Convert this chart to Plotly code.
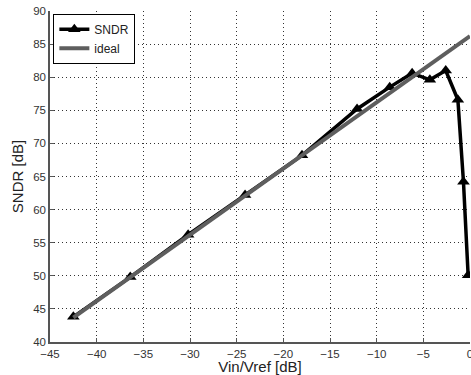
import plotly.graph_objects as go

# Data
vin_db = [-42.5, -36.4, -30.2, -24.1, -18.0, -12.1, -8.6, -6.2, -4.3, -2.6, -1.3, -0.7, -0.2]
sndr_db = [43.8, 49.8, 56.2, 62.2, 68.2, 75.2, 78.5, 80.6, 79.6, 81.0, 76.6, 64.2, 50.1]

ideal_x = [-42.5, 0.0]
ideal_y = [43.7, 86.2]

x_ticks = [-45, -40, -35, -30, -25, -20, -15, -10, -5, 0]
y_ticks = [40, 45, 50, 55, 60, 65, 70, 75, 80, 85, 90]

FONT = "Liberation Sans, Arial, sans-serif"

fig = go.Figure()
fig.add_trace(go.Scatter(
    x=vin_db, y=sndr_db, name="SNDR", mode="lines+markers",
    line=dict(color="black", width=3.5),
    marker=dict(symbol="triangle-up", size=11, color="black"),
))
fig.add_trace(go.Scatter(
    x=ideal_x, y=ideal_y, name="ideal", mode="lines",
    line=dict(color="#5e5e5e", width=4),
))

axis_common = dict(
    showgrid=True, gridcolor="#333333", gridwidth=1, griddash="1px,3px",
    showline=True, linecolor="#555555", linewidth=1.5,
    ticks="inside", ticklen=4, tickcolor="#555555",
    tickfont=dict(family=FONT, size=11.5, color="#333333"),
    zeroline=False, mirror=False, automargin=False,
    ticklabeloverflow="allow",
)

fig.update_layout(
    width=471, height=375,
    margin=dict(l=50, r=1, t=11, b=33, autoexpand=False),
    paper_bgcolor="white", plot_bgcolor="white",
    font=dict(family=FONT, color="#222222"),
    showlegend=True,
    legend=dict(
        x=0.008, y=0.992, xanchor="left", yanchor="top",
        bgcolor="white", bordercolor="black", borderwidth=1,
        font=dict(family=FONT, size=12, color="#222222"),
        tracegroupgap=0, itemwidth=30,
    ),
    xaxis=dict(
        range=[-45, 0], tickvals=x_ticks,
        title=dict(text="Vin/Vref [dB]", font=dict(family=FONT, size=15, color="#222222"), standoff=0),
        **axis_common,
    ),
    yaxis=dict(
        range=[40, 90], tickvals=y_ticks,
        title=dict(text="SNDR [dB]", font=dict(family=FONT, size=15, color="#222222"), standoff=6),
        **axis_common,
    ),
)

fig.write_html(
    "out.html",
    config={"displayModeBar": False},
    post_script="document.body.style.margin='0';document.body.style.overflow='hidden';",
)
